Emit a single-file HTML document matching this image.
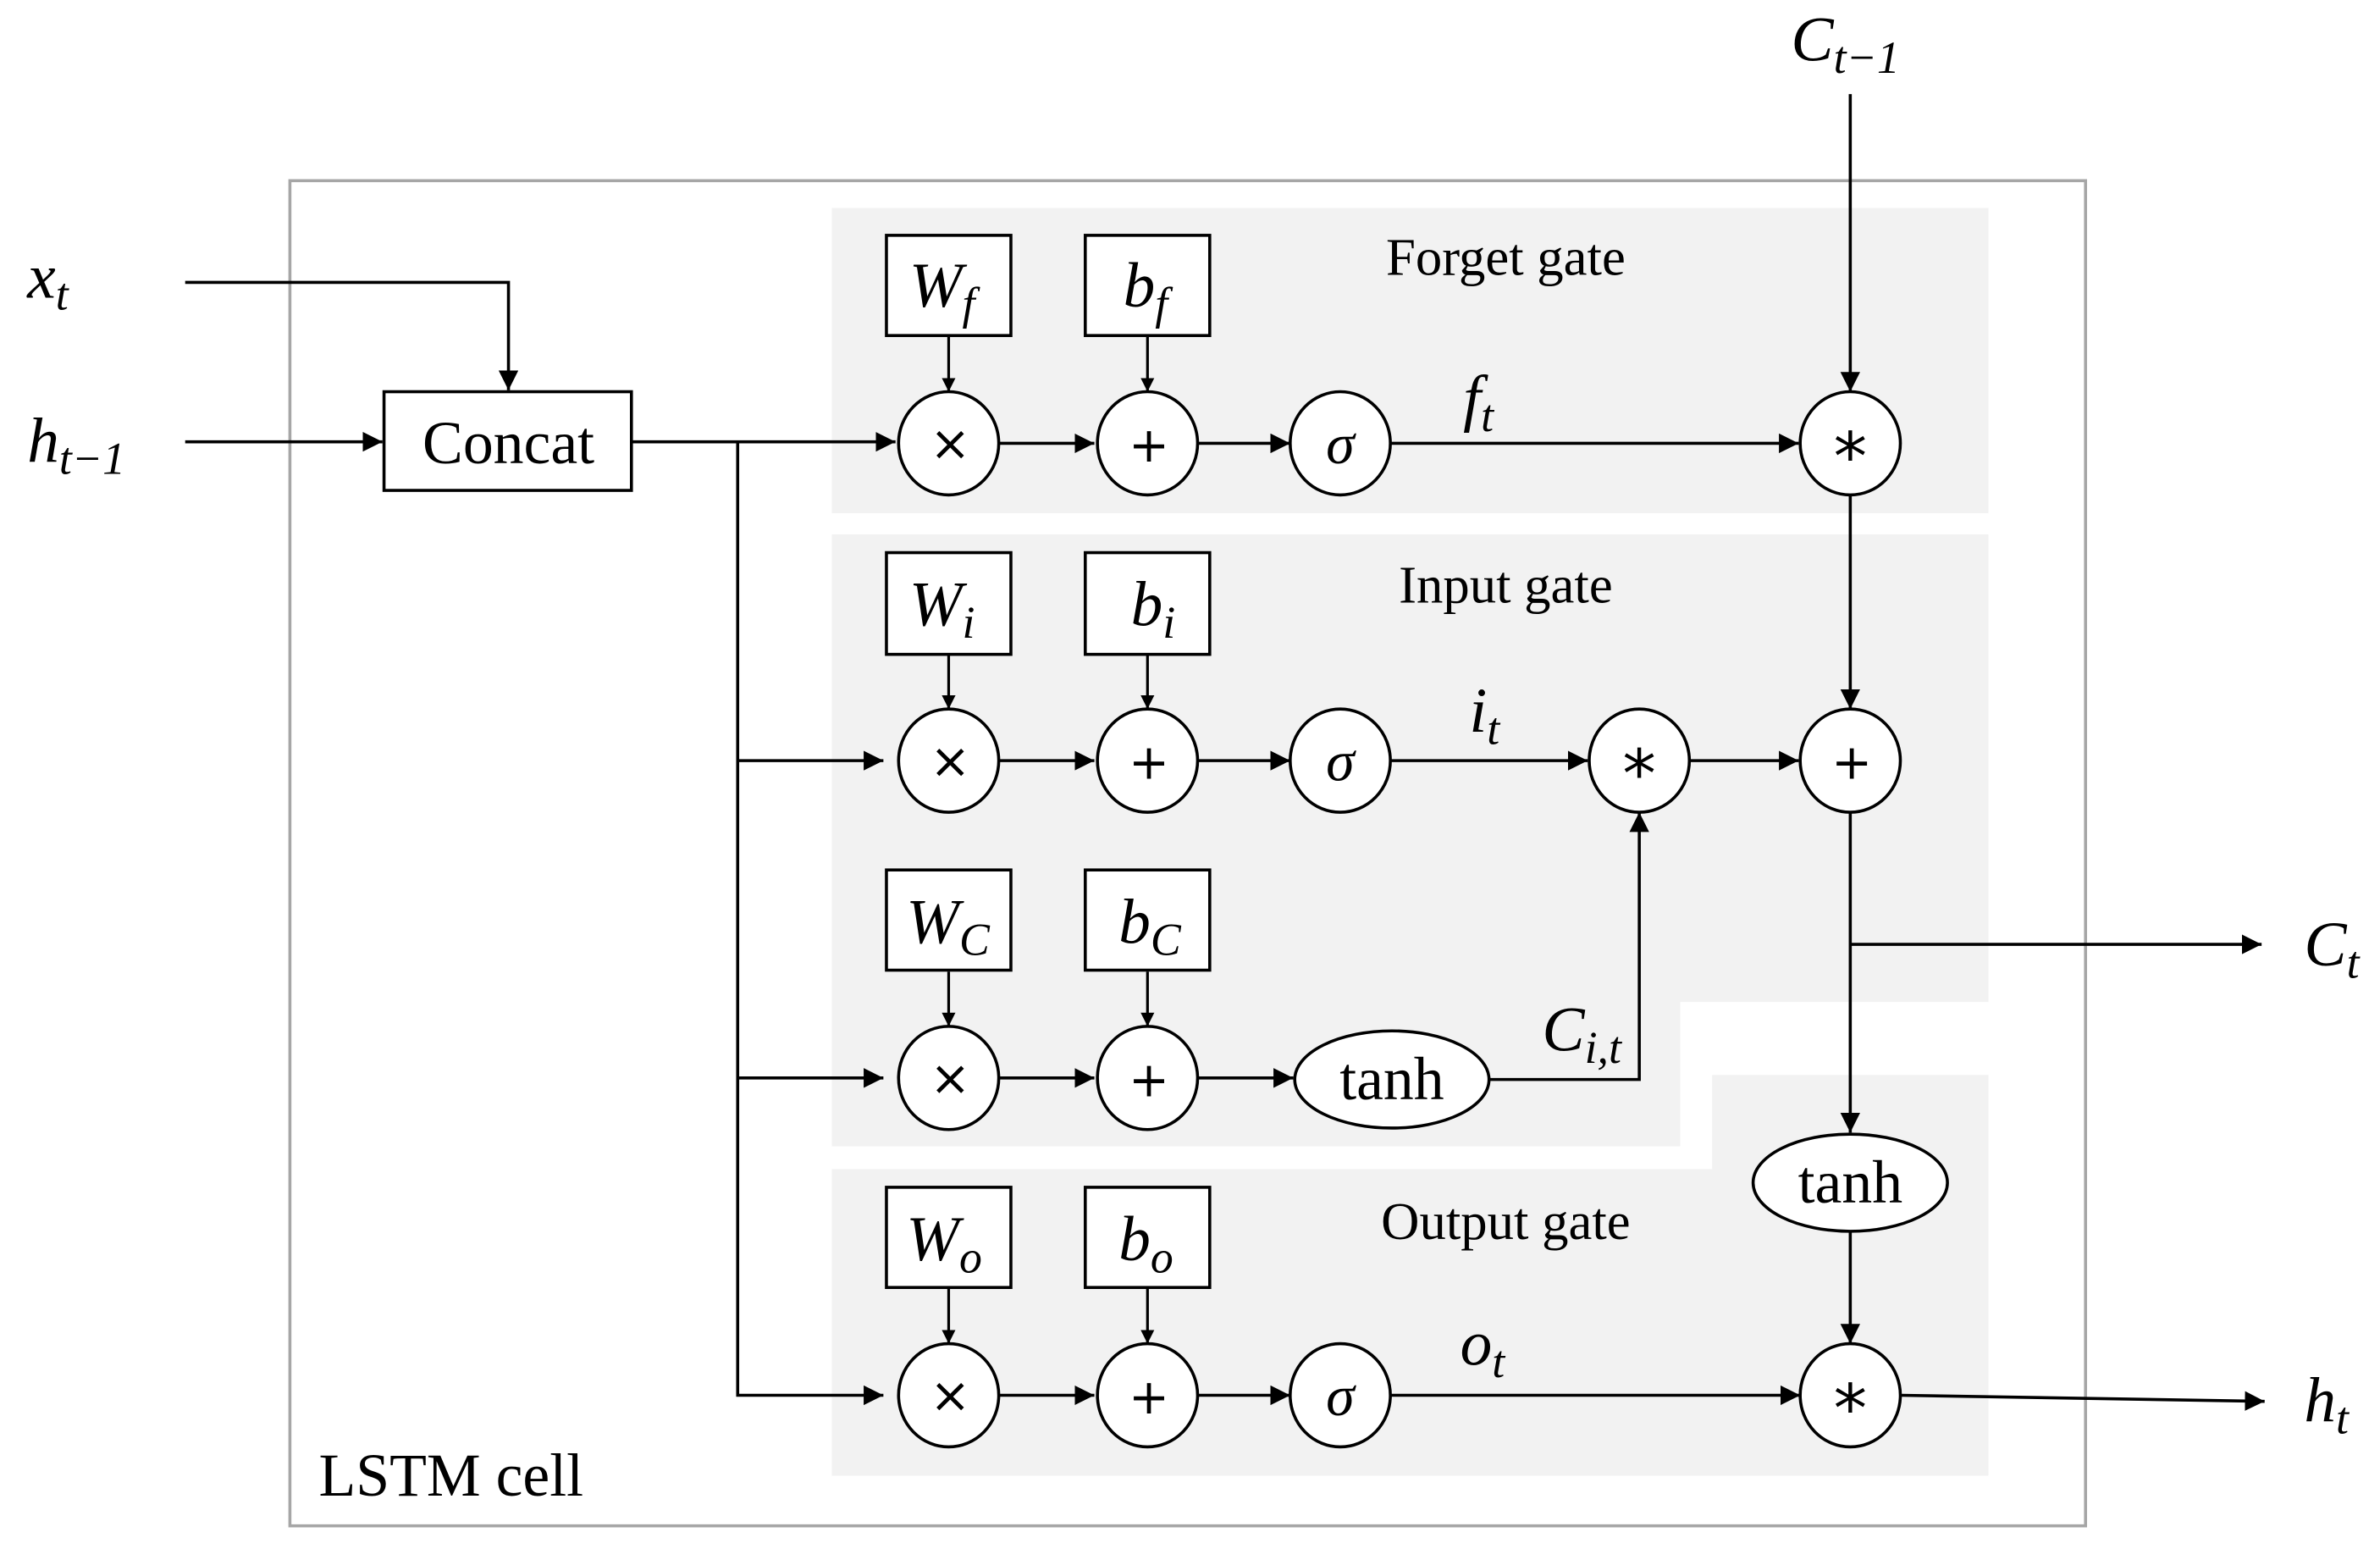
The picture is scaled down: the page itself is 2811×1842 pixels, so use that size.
<!DOCTYPE html>
<html><head><meta charset="utf-8"><style>
html,body{margin:0;padding:0;background:#fff;}
svg{display:block;}
text{font-family:"Liberation Serif",serif;fill:#000;}
.m{font-style:italic;}
.d{font-family:"DejaVu Sans",sans-serif;}
</style></head><body>
<svg width="2811" height="1842" viewBox="0 0 1568 1027.5" preserveAspectRatio="none" xmlns="http://www.w3.org/2000/svg">
<defs>
<marker id="a" viewBox="0 0 10 10" refX="10" refY="5" markerWidth="9" markerHeight="9" markerUnits="userSpaceOnUse" orient="auto">
<path d="M0,0 L10,5 L0,10 z" fill="#000"/></marker>
<marker id="b" viewBox="0 0 10 10" refX="10" refY="5" markerWidth="13" markerHeight="13" markerUnits="userSpaceOnUse" orient="auto">
<path d="M0,0 L10,5 L0,10 z" fill="#000"/></marker>
</defs>
<rect x="548" y="137" width="762" height="201" fill="#f2f2f2"/>
<path d="M548,352 H1310 V660 H1107 V755 H548 Z" fill="#f2f2f2"/>
<path d="M548,770 H1128 V708 H1310 V972 H548 Z" fill="#f2f2f2"/>
<rect x="191" y="119" width="1183" height="886" fill="none" stroke="#a6a6a6" stroke-width="2"/>
<text x="992" y="181" font-size="35" text-anchor="middle">Forget gate</text>
<text x="992" y="397" font-size="35" text-anchor="middle">Input gate</text>
<text x="992" y="816" font-size="35" text-anchor="middle">Output gate</text>
<text x="210" y="985" font-size="40">LSTM cell</text>

<g fill="none" stroke="#000" stroke-width="2" marker-end="url(#b)">
<path d="M122,186 H335 V257"/>
<path d="M122,291 H252"/>
<path d="M416,291 H590"/>
<path d="M486,291 V919 H582"/>
<path d="M486,501 H582"/>
<path d="M486,710 H582"/>
<path d="M658,292 H721"/><path d="M789,292 H850"/><path d="M916,292 H1185"/>
<path d="M658,501 H721"/><path d="M789,501 H850"/><path d="M916,501 H1046"/><path d="M1113,501 H1185"/>
<path d="M658,710 H721"/><path d="M789,710 H852"/><path d="M981,711 H1080 V535"/>
<path d="M658,919 H721"/><path d="M789,919 H850"/><path d="M916,919 H1186"/>
<path d="M1252,919 L1492,923"/>
<path d="M1219,62 V258"/>
<path d="M1219,325 V467"/>
<path d="M1219,534 V746"/>
<path d="M1219,622 H1490"/>
<path d="M1219,811 V885"/>
</g>
<g fill="none" stroke="#000" stroke-width="1.8" marker-end="url(#a)">
<path d="M625,222 V258"/><path d="M756,222 V258"/>
<path d="M625,431 V467"/><path d="M756,431 V467"/>
<path d="M625,640 V676"/><path d="M756,640 V676"/>
<path d="M625,849 V885"/><path d="M756,849 V885"/>
</g>

<g fill="#fff" stroke="#000" stroke-width="2">
<rect x="253" y="258" width="163" height="65"/>
<rect x="584" y="155" width="82" height="66"/><rect x="715" y="155" width="82" height="66"/>
<rect x="584" y="364" width="82" height="67"/><rect x="715" y="364" width="82" height="67"/>
<rect x="584" y="573" width="82" height="66"/><rect x="715" y="573" width="82" height="66"/>
<rect x="584" y="782" width="82" height="66"/><rect x="715" y="782" width="82" height="66"/>
<ellipse cx="625" cy="292" rx="33" ry="34"/><ellipse cx="756" cy="292" rx="33" ry="34"/><ellipse cx="883" cy="292" rx="33" ry="34"/><ellipse cx="1219" cy="292" rx="33" ry="34"/>
<ellipse cx="625" cy="501" rx="33" ry="34"/><ellipse cx="756" cy="501" rx="33" ry="34"/><ellipse cx="883" cy="501" rx="33" ry="34"/><ellipse cx="1080" cy="501" rx="33" ry="34"/><ellipse cx="1219" cy="501" rx="33" ry="34"/>
<ellipse cx="625" cy="710" rx="33" ry="34"/><ellipse cx="756" cy="710" rx="33" ry="34"/><ellipse cx="917" cy="711" rx="64" ry="32"/>
<ellipse cx="625" cy="919" rx="33" ry="34"/><ellipse cx="756" cy="919" rx="33" ry="34"/><ellipse cx="883" cy="919" rx="33" ry="34"/><ellipse cx="1219" cy="919" rx="33" ry="34"/>
<ellipse cx="1219" cy="779" rx="64" ry="32"/>
</g>
<text x="335" y="305" font-size="40" text-anchor="middle">Concat</text>
<text x="917" y="724" font-size="40" text-anchor="middle">tanh</text>
<text x="1219" y="792" font-size="40" text-anchor="middle">tanh</text>

<g font-size="32" text-anchor="middle">
<text class="d" x="626" y="303">×</text><text class="d" x="757" y="304">+</text>
<text class="d" x="626" y="512">×</text><text class="d" x="757" y="513">+</text>
<text class="d" x="626" y="721">×</text><text class="d" x="757" y="722">+</text>
<text class="d" x="626" y="930">×</text><text class="d" x="757" y="931">+</text>
<text class="d" x="1220" y="513">+</text>
</g>
<g font-size="44" text-anchor="middle">
<text class="d" x="1219" y="316">*</text><text class="d" x="1080" y="525">*</text><text class="d" x="1219" y="943">*</text>
</g>
<g font-size="38" text-anchor="middle">
<text x="883" y="305" class="m">σ</text><text x="883" y="514" class="m">σ</text><text x="883" y="932" class="m">σ</text>
</g>

<g font-size="42">
<text x="599" y="202" class="m">W<tspan font-size="30" dy="8">f</tspan></text>
<text x="740" y="202" class="m">b<tspan font-size="30" dy="8">f</tspan></text>
<text x="599" y="412" class="m">W<tspan font-size="30" dy="8">i</tspan></text>
<text x="745" y="412" class="m">b<tspan font-size="30" dy="8">i</tspan></text>
<text x="597" y="621" class="m">W<tspan font-size="30" dy="8">C</tspan></text>
<text x="737" y="621" class="m">b<tspan font-size="30" dy="8">C</tspan></text>
<text x="597" y="830" class="m">W<tspan font-size="30" dy="8">o</tspan></text>
<text x="737" y="830" class="m">b<tspan font-size="30" dy="8">o</tspan></text>
<text x="964" y="276" class="m">f<tspan font-size="30" dy="8">t</tspan></text>
<text x="968" y="482" class="m">i<tspan font-size="30" dy="8">t</tspan></text>
<text x="1016" y="692" class="m">C<tspan font-size="30" dy="8">i,t</tspan></text>
<text x="962" y="899" class="m">o<tspan font-size="30" dy="8">t</tspan></text>
<text x="18" y="196" class="m">x<tspan font-size="30" dy="8">t</tspan></text>
<text x="18" y="304" class="m">h<tspan font-size="30" dy="8">t−1</tspan></text>
<text x="1180" y="40" class="m">C<tspan font-size="30" dy="8">t−1</tspan></text>
<text x="1518" y="636" class="m">C<tspan font-size="30" dy="8">t</tspan></text>
<text x="1518" y="936" class="m">h<tspan font-size="30" dy="8">t</tspan></text>
</g>
</svg>
</body></html>
